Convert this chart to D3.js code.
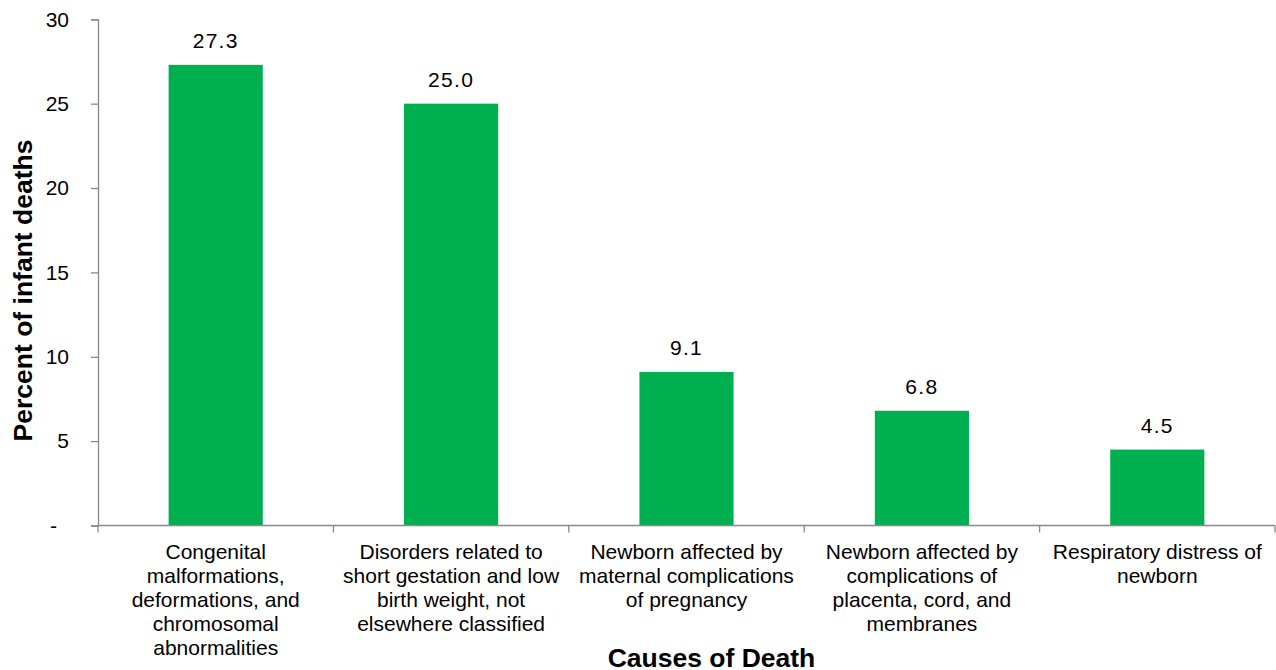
<!DOCTYPE html>
<html>
<head>
<meta charset="utf-8">
<script src="https://cdn.jsdelivr.net/npm/d3@7"></script>
<style>
  html, body { margin: 0; padding: 0; background: #fff; }
  svg { display: block; font-family: "Liberation Sans", Arial, sans-serif; }
</style>
</head>
<body>
<svg id="chart" width="1276" height="670"></svg>
<script>
const categories = [
  "Congenital malformations, deformations, and chromosomal abnormalities",
  "Disorders related to short gestation and low birth weight, not elsewhere classified",
  "Newborn affected by maternal complications of pregnancy",
  "Newborn affected by complications of placenta, cord, and membranes",
  "Respiratory distress of newborn"
];
const categoryLines = [
  ["Congenital", "malformations,", "deformations, and", "chromosomal", "abnormalities"],
  ["Disorders related to", "short gestation and low", "birth weight, not", "elsewhere classified"],
  ["Newborn affected by", "maternal complications", "of pregnancy"],
  ["Newborn affected by", "complications of", "placenta, cord, and", "membranes"],
  ["Respiratory distress of", "newborn"]
];
const values = [27.3, 25.0, 9.1, 6.8, 4.5];
const yTicks = [0, 5, 10, 15, 20, 25, 30];
const yTitle = "Percent of infant deaths";
const xTitle = "Causes of Death";

(function () {
const svg = d3.select("#chart");
const mLeft = 98, mRight = 1275, mTop = 19.3, mBottom = 525.5;
const axisColor = "#898989";
const barColor = "#00B050";

const x = d3.scaleBand().domain(categories).range([mLeft, mRight]).padding(0);
const y = d3.scaleLinear().domain([0, 30]).range([mBottom, mTop]);

// Bars
const bw = x.bandwidth();
svg.append("g").selectAll("rect").data(values).join("rect")
  .attr("x", (d, i) => x(categories[i]) + bw * 0.3)
  .attr("width", bw * 0.4)
  .attr("y", d => y(d))
  .attr("height", d => y(0) - y(d))
  .attr("fill", barColor);

// Value labels
svg.append("g").selectAll("text").data(values).join("text")
  .attr("x", (d, i) => x(categories[i]) + bw / 2)
  .attr("y", d => y(d) - 16.6)
  .attr("text-anchor", "middle")
  .attr("font-size", 21)
  .attr("letter-spacing", 1.3)
  .attr("fill", "#000")
  .text(d => d.toFixed(1));

// Y axis
const yAxis = d3.axisLeft(y).tickValues(yTicks).tickSize(7).tickPadding(22)
  .tickFormat(d => d === 0 ? "-" : d3.format("d")(d));
const gy = svg.append("g").attr("transform", `translate(${mLeft},0)`).call(yAxis);
gy.select(".domain").attr("stroke", axisColor).attr("stroke-width", 1.3);
gy.selectAll(".tick line").attr("stroke", axisColor).attr("stroke-width", 1.3);
gy.selectAll(".tick text").attr("font-size", 21).attr("fill", "#000")
  .attr("font-family", "Liberation Sans, Arial, sans-serif");
gy.selectAll(".tick text").filter(d => d === 0).attr("x", -41);

// X axis line
const gx = svg.append("g");
gx.append("line").attr("x1", mLeft).attr("x2", mRight).attr("y1", mBottom).attr("y2", mBottom)
  .attr("stroke", axisColor).attr("stroke-width", 1.3);
const boundaries = categories.map(c => x(c)).concat([mRight]);
gx.selectAll("line.tk").data(boundaries).join("line").attr("class", "tk")
  .attr("x1", d => d).attr("x2", d => d)
  .attr("y1", mBottom).attr("y2", mBottom + 7)
  .attr("stroke", axisColor).attr("stroke-width", 1.3);

// Category labels
const catG = svg.append("g");
categoryLines.forEach((lines, i) => {
  const t = catG.append("text")
    .attr("text-anchor", "middle")
    .attr("font-size", 21)
    .attr("fill", "#000");
  lines.forEach((ln, j) => {
    t.append("tspan")
      .attr("x", x(categories[i]) + bw / 2)
      .attr("y", 559 + j * 24)
      .text(ln);
  });
});

// Axis titles
svg.append("text")
  .attr("transform", "translate(32,290.5) rotate(-90)")
  .attr("text-anchor", "middle")
  .attr("font-size", 26.5)
  .attr("font-weight", "bold")
  .attr("fill", "#000")
  .text(yTitle);

svg.append("text")
  .attr("x", 711.5)
  .attr("y", 667)
  .attr("text-anchor", "middle")
  .attr("font-size", 26.5)
  .attr("font-weight", "bold")
  .attr("fill", "#000")
  .text(xTitle);
})();
</script>
</body>
</html>
